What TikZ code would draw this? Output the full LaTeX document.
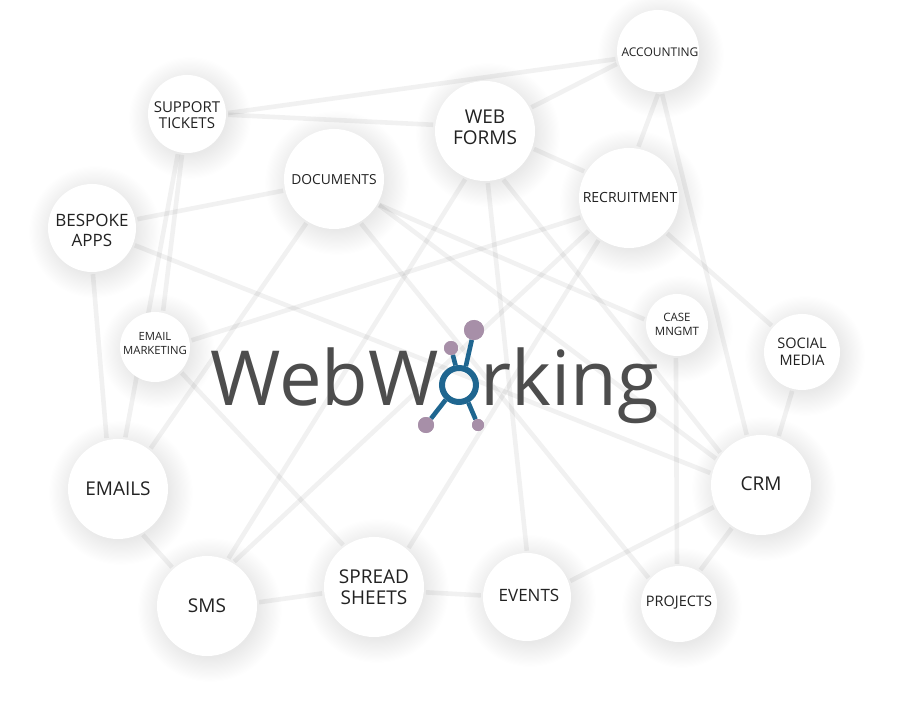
\documentclass[tikz,border=0pt]{standalone}
\usepackage{fontspec}
\setmainfont{Open Sans}
\pgfdeclarelayer{shadowlayer}
\pgfdeclarelayer{edgelayer}
\pgfsetlayers{shadowlayer,edgelayer,main}
\definecolor{labelink}{HTML}{222222}
\definecolor{logoink}{HTML}{4D4D4D}
\definecolor{logoblue}{HTML}{1F6690}
\definecolor{logopink}{HTML}{A78FA8}
\tikzset{
  netcircle/.style={circle,fill=white,inner sep=0pt},
  netlabel/.style={inner sep=0pt,align=center,text=labelink},
  edgeline/.style={line width=4.6pt,black,opacity=0.055,shorten >=2pt,shorten <=2pt},
  spoke/.style={line width=4.6pt,logoblue},
  satellite/.style={circle,fill=logopink,inner sep=0pt},
  logotext/.style={anchor=base west,inner sep=0pt,text=logoink,font=\fontsize{76}{80}\selectfont}
}
\newcommand{\netnode}[7][]{%
  \begin{pgfonlayer}{shadowlayer}
    \foreach \k in {1,...,22}{
      \fill[black,opacity=0.0038] (#3+3,#4+4) circle[radius={#5+23-1.15*\k}];
    }
  \end{pgfonlayer}
  \node[netcircle,minimum size={2*#5 pt}] (#2) at (#3,#4) {};
  \node[netlabel,font=\fontsize{#6}{1.2\dimexpr #6pt\relax}\selectfont,#1] (#2-text) at (#2) {#7};
}
\begin{document}
\begin{tikzpicture}[x=1pt,y=-1pt]
\useasboundingbox (0,0) rectangle (902,708);
\begin{pgfonlayer}{shadowlayer}
\fill[white] (0,0) rectangle (902,708);
\end{pgfonlayer}
\netnode[yshift=-1pt]{support}{187}{114}{39}{15}{SUPPORT\\[-1.5pt]TICKETS}
\netnode[yshift=-2.5pt]{bespoke}{92}{228}{44}{17}{BESPOKE\\[0pt]APPS}
\netnode[yshift=-1pt]{docs}{334}{179}{50}{13.8}{DOCUMENTS}
\netnode[yshift=4pt]{web}{485}{131}{50}{19}{WEB\\[-2pt]FORMS}
\netnode[xshift=2pt,yshift=-1pt]{acc}{658}{51}{41}{12}{ACCOUNTING}
\netnode[xshift=1pt]{rec}{629}{198}{50}{14}{RECRUITMENT}
\netnode[yshift=0.5pt]{case}{677}{325}{31}{11.5}{CASE\\[-0.5pt]MNGMT}
\netnode{social}{802}{352}{38}{14.5}{SOCIAL\\[-0.5pt]MEDIA}
\netnode[yshift=3.5pt]{mkt}{155}{347}{35}{11.3}{EMAIL\\[0pt]MARKETING}
\netnode{emails}{118}{489}{50}{19}{EMAILS}
\netnode{sms}{207}{606}{50}{19}{SMS}
\netnode[yshift=-0.5pt]{spread}{374}{587}{50}{19}{SPREAD\\[-1.5pt]SHEETS}
\netnode[xshift=2pt,yshift=2pt]{events}{527}{597}{44}{17}{EVENTS}
\netnode[yshift=1pt]{projects}{679}{604}{38}{14.5}{PROJECTS}
\netnode[yshift=1pt]{crm}{761}{485}{50}{19}{CRM}
\begin{pgfonlayer}{edgelayer}
\foreach \a/\aa/\b/\bb in {
  support/1/acc/191, support/-1/web/173, support/257/emails/82, support/263/mkt/77,
  bespoke/11/docs/193, bespoke/-22/crm/167, bespoke/-89/emails/103,
  mkt/10/rec/202, mkt/-44/spread/126,
  emails/-62/sms/132, docs/238/emails/51, docs/-30/case/171, docs/-30/crm/150,
  docs/-59/projects/140, web/248/sms/66, web/-87/events/90, web/-70/crm/142,
  web/-20/rec/149, web/27/acc/197, rec/80/acc/-89, acc/-85/crm/106,
  rec/-43/social/139, social/256/crm/70, case/268/projects/93,
  crm/236/projects/58, crm/205/events/20, events/178/spread/-6,
  spread/187/sms/4, rec/219/sms/59, rec/234/spread/48}{
  \draw[edgeline] (\a.\aa) -- (\b.\bb);
}
\end{pgfonlayer}
% logo
\node[logotext] (logoa) at (210,406) {WebW};
\node[logotext] (logob) at (480,406) {rking};
\node[circle,draw=logoblue,line width=6pt,minimum size=34pt,inner sep=0pt] (ring) at (459,385) {};
\node[satellite,minimum size=20pt] (sata) at (474,330) {};
\node[satellite,minimum size=14pt] (satb) at (451,348) {};
\node[satellite,minimum size=16pt] (satc) at (426,425) {};
\node[satellite,minimum size=12pt] (satd) at (478,425) {};
\draw[spoke] (ring.70) -- (sata);
\draw[spoke] (ring.100) -- (satb);
\draw[spoke] (ring.228) -- (satc);
\draw[spoke] (ring.-62) -- (satd);
\node[satellite,minimum size=20pt] at (sata) {};
\node[satellite,minimum size=14pt] at (satb) {};
\node[satellite,minimum size=16pt] at (satc) {};
\node[satellite,minimum size=12pt] at (satd) {};
\end{tikzpicture}
\end{document}
